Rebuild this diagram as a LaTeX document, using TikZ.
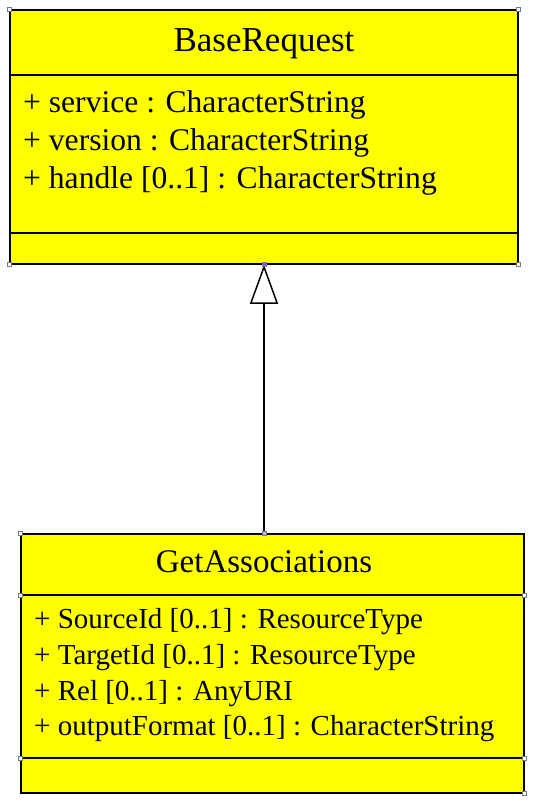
\documentclass[tikz,border=0pt]{standalone}
\usepackage{fontspec}
\setmainfont{Liberation Serif}
\usetikzlibrary{arrows.meta}
\definecolor{umlyellow}{HTML}{FFFF00}
\definecolor{umlhandle}{HTML}{7A7A8C}
\tikzset{
  classbox/.style ={draw=black, fill=umlyellow, line width=1.5pt, inner sep=0pt},
  divider/.style  ={draw=black, line width=1.5pt},
  ctitle/.style   ={anchor=base, inner sep=0pt},
  attr/.style     ={anchor=base west, inner sep=0pt},
  handle/.style   ={draw=umlhandle, fill=white, line width=0.6pt,
                    minimum size=4pt, inner sep=0pt},
  inherit/.style  ={-{Triangle[open, length=39pt, width=28pt, line width=1.5pt]},
                    line width=1.8pt, draw=black, fill=white},
}
\newcommand{\topfont}{\fontsize{31.6}{36}\selectfont}
\newcommand{\botfont}{\fontsize{29}{34}\selectfont}

\begin{document}
\begin{tikzpicture}[x=1pt, y=-1pt]
  \useasboundingbox (0,0) rectangle (537,800);

  % BaseRequest
  \node[classbox, minimum width=508pt, minimum height=254pt] (base) at (264,137) {};
  \draw[divider] (base.west |- 0,75) -- (base.east |- 0,75);
  \draw[divider] (base.west |- 0,233) -- (base.east |- 0,233);
  \node[ctitle, font=\fontsize{35}{40}\selectfont] (baset) at (264,52) {BaseRequest};
  \node[attr, font=\topfont] (bsvc) at (23,112) {+ service : CharacterString};
  \node[attr, font=\topfont] (bver) at (23,150) {+ version : CharacterString};
  \node[attr, font=\topfont] (bhdl) at (23,188) {+ handle [0..1] : CharacterString};

  % GetAssociations
  \node[classbox, minimum width=503pt, minimum height=259pt] (get) at (272.5,663.5) {};
  \draw[divider] (get.west |- 0,595) -- (get.east |- 0,595);
  \draw[divider] (get.west |- 0,758) -- (get.east |- 0,758);
  \node[ctitle, font=\fontsize{33}{38}\selectfont] (gett) at (264,572) {GetAssociations};
  \node[attr, font=\botfont] (gsrc) at (34,628) {+ SourceId [0..1] : ResourceType};
  \node[attr, font=\botfont] (gtgt) at (34,664) {+ TargetId [0..1] : ResourceType};
  \node[attr, font=\botfont] (grel) at (34,700) {+ Rel [0..1] : AnyURI};
  \node[attr, font=\botfont] (gout) at (34,735) {+ outputFormat [0..1] : CharacterString};

  % generalisation
  \coordinate (gtop) at (get.north -| base.south);
  \draw[inherit] (gtop) -- (base.south);

  % selection handles
  \foreach \p in {base.north west, base.north east, base.south west, base.south east,
                  get.north west, get.south east} {
    \node[handle] at (\p) {};
  }
  \node[handle] at (get.west |- 0,595) {};
  \node[handle] at (get.east |- 0,595) {};
  \node[handle] at (get.east |- 0,758) {};
  \node[handle] at (get.west |- 0,758) {};
  \node[handle, fill=blue!60] at (base.south) {};
  \node[handle, fill=blue!30] at (gtop) {};
\end{tikzpicture}
\end{document}
